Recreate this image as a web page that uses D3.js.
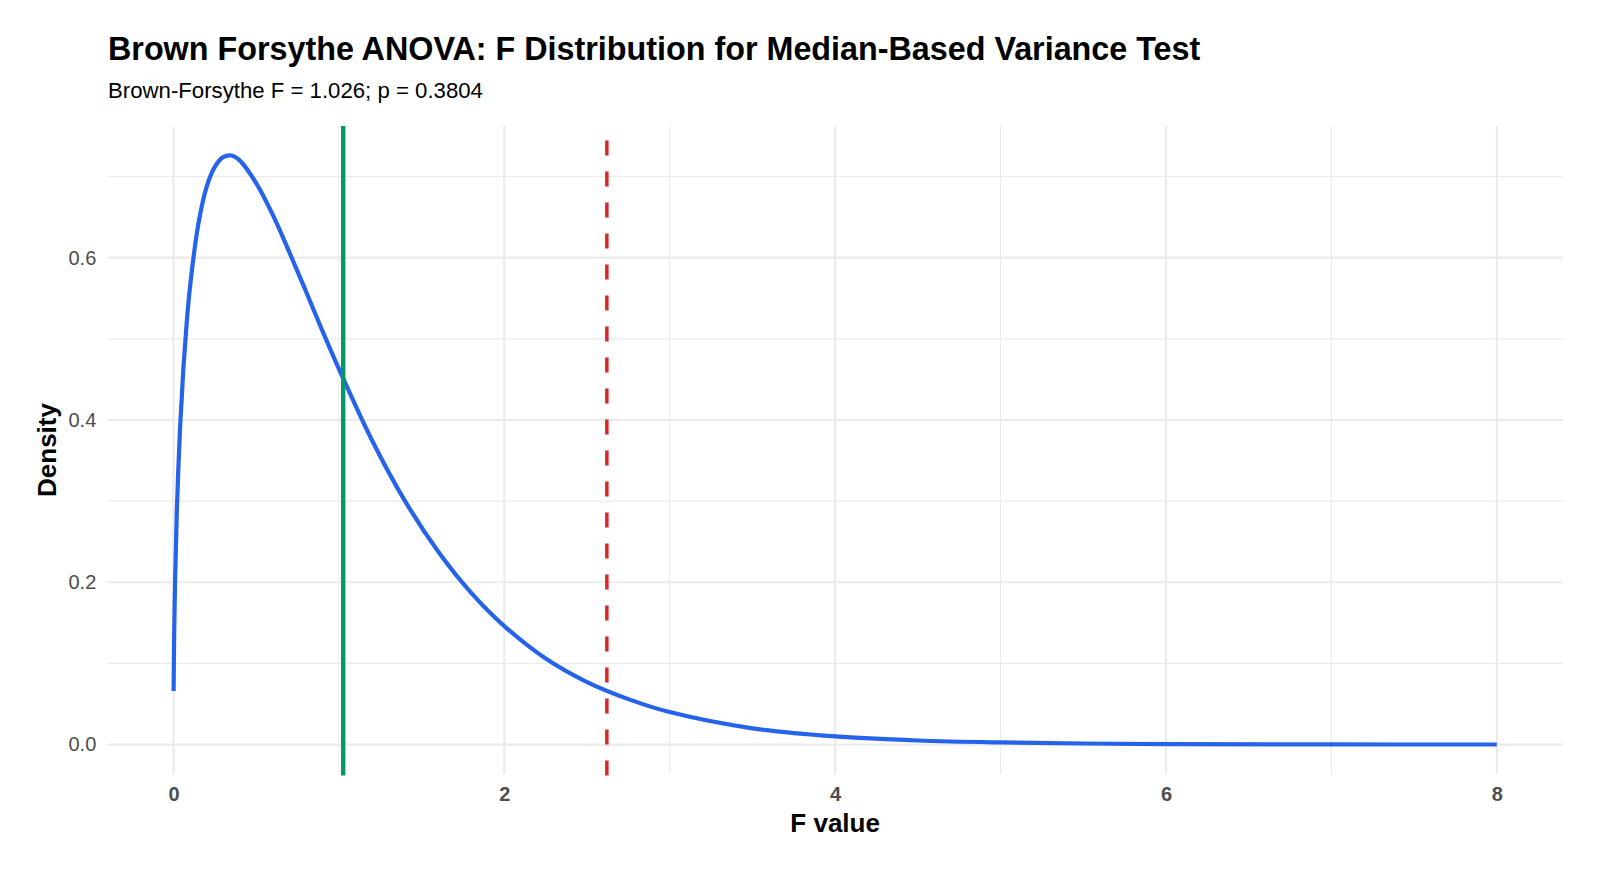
<!DOCTYPE html>
<html>
<head>
<meta charset="utf-8">
<script src="https://cdn.jsdelivr.net/npm/d3@7"></script>
<style>
  body { margin: 0; background: #fff; }
  text { font-family: "Liberation Sans", Arial, sans-serif; }
</style>
</head>
<body>
<div id="root"></div>
<script>
// values
var fValues = [0.001, 0.003, 0.005, 0.01, 0.02, 0.04, 0.06, 0.08, 0.1, 0.15, 0.2, 0.25, 0.3, 0.35, 0.4,
  0.5, 0.6, 0.7, 0.8, 0.9, 1.0, 1.2, 1.4, 1.6, 1.8, 2.0, 2.25, 2.5, 2.75, 3.0, 3.5, 4.0, 4.5,
  5.0, 5.5, 6.0, 7.0, 8.0];
var densityValues = [0.066, 0.113, 0.146, 0.204, 0.285, 0.391, 0.464, 0.520, 0.564, 0.641, 0.687, 0.712, 0.724, 0.726, 0.720,
  0.692, 0.653, 0.607, 0.559, 0.510, 0.463, 0.375, 0.300, 0.238, 0.187, 0.146, 0.106, 0.077, 0.056, 0.040, 0.020, 0.010, 0.005,
  0.0026, 0.0013, 0.0006, 0.00015, 0.00004];
var observedF = 1.026;
var criticalF = 2.62;
var xTicks = [0, 2, 4, 6, 8];
var xMinor = [1, 3, 5, 7];
var yTicks = [0, 0.2, 0.4, 0.6];
var yMinor = [0.1, 0.3, 0.5, 0.7];

var data = fValues.map((f, i) => ({ f: f, d: densityValues[i] }));

var width = 1600, height = 873;
var panel = { left: 107.3, right: 1563, top: 126, bottom: 774 };

var svg = d3.select('#root')
  .append('svg')
    .attr('width', width)
    .attr('height', height);

var xExt = d3.extent(data, d => d.f);
var yExt = [0, d3.max(data, d => d.d)];
var xPad = (xExt[1] - 0) * 0.05;
var yPad = (yExt[1] - yExt[0]) * 0.05;

var x = d3.scaleLinear()
  .domain([0 - xPad, xExt[1] + xPad])
  .range([panel.left, panel.right]);

var y = d3.scaleLinear()
  .domain([yExt[0] - yPad, yExt[1] + yPad])
  .range([panel.bottom, panel.top]);

// grid
var grid = svg.append('g');
grid.selectAll('.xminor').data(xMinor).enter().append('line')
  .attr('x1', d => x(d)).attr('x2', d => x(d))
  .attr('y1', panel.top).attr('y2', panel.bottom)
  .attr('stroke', '#ebebeb').attr('stroke-width', 1.1);
grid.selectAll('.yminor').data(yMinor).enter().append('line')
  .attr('y1', d => y(d)).attr('y2', d => y(d))
  .attr('x1', panel.left).attr('x2', panel.right)
  .attr('stroke', '#ebebeb').attr('stroke-width', 1.1);
grid.selectAll('.xmajor').data(xTicks).enter().append('line')
  .attr('x1', d => x(d)).attr('x2', d => x(d))
  .attr('y1', panel.top).attr('y2', panel.bottom)
  .attr('stroke', '#ebebeb').attr('stroke-width', 2.2);
grid.selectAll('.ymajor').data(yTicks).enter().append('line')
  .attr('y1', d => y(d)).attr('y2', d => y(d))
  .attr('x1', panel.left).attr('x2', panel.right)
  .attr('stroke', '#ebebeb').attr('stroke-width', 2.2);

// axes
var xAxis = svg.append('g')
  .attr('transform', 'translate(0,' + panel.bottom + ')')
  .call(d3.axisBottom(x).tickValues(xTicks).tickSize(0).tickPadding(13).tickFormat(d3.format('d')));
xAxis.select('.domain').remove();
xAxis.selectAll('text')
  .attr('font-size', 20).attr('font-weight', 'bold').attr('fill', '#4d4d4d')
  .style('font-family', '"Liberation Sans", Arial, sans-serif');

var yAxis = svg.append('g')
  .attr('transform', 'translate(' + panel.left + ',0)')
  .call(d3.axisLeft(y).tickValues(yTicks).tickSize(0).tickPadding(11).tickFormat(d3.format('.1f')));
yAxis.select('.domain').remove();
yAxis.selectAll('text')
  .attr('font-size', 20).attr('fill', '#4d4d4d')
  .style('font-family', '"Liberation Sans", Arial, sans-serif');

// density curve
var line = d3.line()
  .x(d => x(d.f))
  .y(d => y(d.d))
  .curve(d3.curveCatmullRom.alpha(0.5));

svg.append('path')
  .datum(data)
  .attr('d', line)
  .attr('fill', 'none')
  .attr('stroke', '#2563eb')
  .attr('stroke-width', 4.2);

// observed F
svg.append('line')
  .attr('x1', x(observedF)).attr('x2', x(observedF))
  .attr('y1', panel.bottom + 1.5).attr('y2', panel.top)
  .attr('stroke', '#059669')
  .attr('stroke-width', 4.4);

// critical value, dashed from the bottom up
svg.append('line')
  .attr('x1', x(criticalF)).attr('x2', x(criticalF))
  .attr('y1', panel.bottom + 1.5).attr('y2', panel.top)
  .attr('stroke', '#dc2626')
  .attr('stroke-width', 3.5)
  .attr('stroke-dasharray', '15,16');

// titles
svg.append('text')
  .attr('x', 108).attr('y', 59.5)
  .attr('font-size', 32.3).attr('font-weight', 'bold').attr('fill', '#000')
  .text('Brown Forsythe ANOVA: F Distribution for Median-Based Variance Test');

svg.append('text')
  .attr('x', 108).attr('y', 98)
  .attr('font-size', 22.2).attr('fill', '#000')
  .text('Brown-Forsythe F = 1.026; p = 0.3804');

svg.append('text')
  .attr('x', (panel.left + panel.right) / 2).attr('y', 832)
  .attr('text-anchor', 'middle')
  .attr('font-size', 26).attr('font-weight', 'bold')
  .text('F value');

svg.append('text')
  .attr('transform', 'translate(56,' + (panel.top + panel.bottom) / 2 + ') rotate(-90)')
  .attr('text-anchor', 'middle')
  .attr('font-size', 26).attr('font-weight', 'bold')
  .text('Density');
</script>
</body>
</html>
